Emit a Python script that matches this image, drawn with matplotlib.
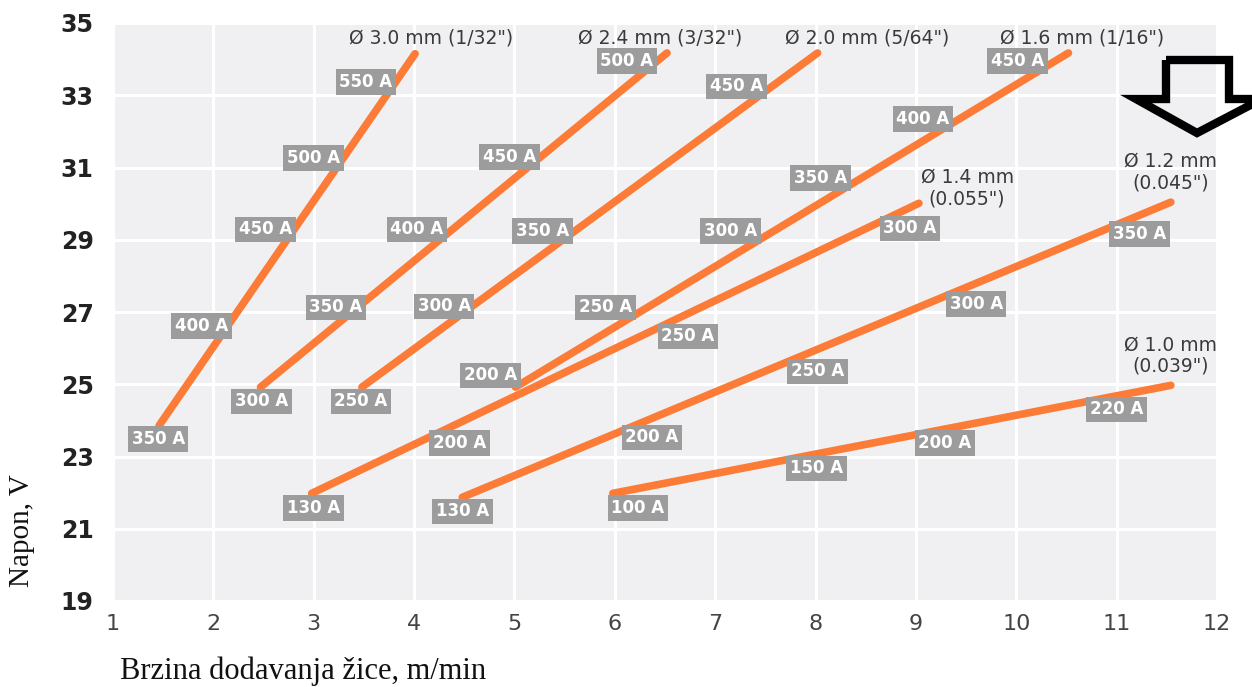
import numpy as np
import matplotlib
matplotlib.use('Agg')
import matplotlib.pyplot as plt
from matplotlib.patches import Polygon

# wire diameters (curve titles)
wires = ['Ø 3.0 mm (1/32")', 'Ø 2.4 mm (3/32")', 'Ø 2.0 mm (5/64")', 'Ø 1.6 mm (1/16")',
         'Ø 1.4 mm\n(0.055")', 'Ø 1.2 mm\n(0.045")', 'Ø 1.0 mm\n(0.039")']

# wire feed speed (m/min) and voltage (V) at both ends of each curve
speed_start = [1.46, 2.47, 3.48, 5.01, 2.98, 4.48, 5.98]
speed_end = [4.01, 6.52, 8.02, 10.52, 9.03, 11.54, 11.54]
volt_start = [23.86, 24.92, 24.92, 24.92, 21.98, 21.87, 21.98]
volt_end = [34.15, 34.17, 34.17, 34.17, 30.01, 30.04, 24.97]

# where the curve titles sit (speed, voltage)
title_speed = [4.17, 6.45, 8.51, 10.66, 9.51, 11.54, 11.54]
title_volt = [34.58, 34.58, 34.58, 34.58, 30.43, 30.87, 25.80]

# current labels along each curve
amps = [
    ['350 A', '400 A', '450 A', '500 A', '550 A'],
    ['300 A', '350 A', '400 A', '450 A', '500 A'],
    ['250 A', '300 A', '350 A', '450 A'],
    ['200 A', '250 A', '300 A', '350 A', '400 A', '450 A'],
    ['130 A', '200 A', '250 A', '300 A'],
    ['130 A', '200 A', '250 A', '300 A', '350 A'],
    ['100 A', '150 A', '200 A', '220 A'],
]
amp_speed = [
    [1.45, 1.88, 2.52, 3.00, 3.52],
    [2.48, 3.22, 4.03, 4.95, 6.12],
    [3.47, 4.30, 5.28, 7.21],
    [4.76, 5.91, 7.15, 8.05, 9.07, 10.01],
    [3.00, 4.45, 6.73, 8.94],
    [4.48, 6.37, 8.02, 9.60, 11.23],
    [6.23, 8.01, 9.29, 11.00],
]
amp_volt = [
    [23.48, 26.61, 29.29, 31.26, 33.37],
    [24.53, 27.13, 29.29, 31.29, 33.95],
    [24.53, 27.16, 29.24, 33.25],
    [25.25, 27.13, 29.24, 30.71, 32.34, 33.95],
    [21.57, 23.37, 26.33, 29.32],
    [21.48, 23.53, 25.36, 27.22, 29.16],
    [21.57, 22.67, 23.37, 24.31],
]

x_ticks = list(range(1, 13))
y_ticks = list(range(19, 36, 2))

W, H = 1252, 687
fig = plt.figure(figsize=(W / 100, H / 100), dpi=100)
ax = fig.add_axes([113 / W, 1 - 601 / H, (1217 - 113) / W, (601 - 23) / H])
ax.set_facecolor('#f0f0f2')
ax.set_xlim(1, 12)
ax.set_ylim(19, 35)
ax.set_xticks(x_ticks)
ax.set_yticks(y_ticks)
ax.grid(True, color='white', linewidth=2.2)
ax.set_axisbelow(True)
for s in ax.spines.values():
    s.set_visible(False)
ax.tick_params(length=0)
ax.tick_params(axis='y', pad=14, labelsize=17, labelcolor='#222222')
ax.tick_params(axis='x', pad=9, labelsize=16, labelcolor='#444444')
for t in ax.get_yticklabels():
    t.set_fontweight('bold')

orange = '#fb7b37'
for i in range(len(wires)):
    ax.plot([speed_start[i], speed_end[i]], [volt_start[i], volt_end[i]],
            color=orange, linewidth=5.5, solid_capstyle='round', zorder=3)
    ax.text(title_speed[i], title_volt[i], wires[i], ha='center', va='center',
            fontsize=13.5, color='#3a3a3a', linespacing=1.15, zorder=5)
    for lab, sx, vy in zip(amps[i], amp_speed[i], amp_volt[i]):
        ax.text(sx, vy, lab, ha='center', va='center', fontsize=12,
                fontweight='bold', color='white', zorder=4,
                bbox=dict(boxstyle='square,pad=0.22', fc='#9c9c9c', ec='none'))

# hollow arrow in the top right corner
pts = [(1166, 60), (1229, 60), (1229, 99), (1262, 99), (1197, 133), (1136, 99), (1166, 99)]
arrow = Polygon([(px / W, 1 - py / H) for px, py in pts], closed=True,
                transform=fig.transFigure, fill=False, edgecolor='black',
                linewidth=6, joinstyle='miter', zorder=10)
fig.add_artist(arrow)

fig.text(22 / W, 1 - 531 / H, 'Napon, V', rotation=90, ha='center', va='center',
         fontsize=21, family='Liberation Serif', color='#111111')
fig.text(120 / W, 1 - 671 / H, 'Brzina dodavanja žice, m/min', ha='left', va='center',
         fontsize=22, family='Liberation Serif', color='#111111')

fig.savefig('out.png', dpi=100)
